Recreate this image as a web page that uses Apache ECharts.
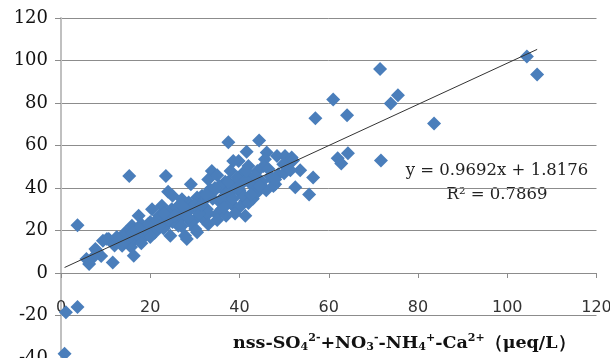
<!DOCTYPE html>
<html>
<head>
<meta charset="utf-8">
<script src="https://cdn.jsdelivr.net/npm/echarts@6/dist/echarts.min.js"></script>
<style>
  html, body { margin: 0; padding: 0; background: #fff; }
  #chart { width: 610px; height: 358px; }
</style>
</head>
<body>
<div id="chart"></div>
<script>
// anion - cation sum (x) vs measured value (y), ueq/L
const xVals = [
  104.4, 106.7, 83.6, 71.5, 75.5, 73.9, 61, 57, 64.1, 71.7, 64.3, 62, 62.8, 56.5, 55.6, 52.5, 53.6, 44.4, 37.5,
  1.1, 3.7, 0.8, 3.7, 15.3, 23.5, 24, 25, 29.1, 11.6, 6.3, 5.7, 8, 9.4, 10.7, 15.7, 16.3, 28.2, 30.5, 24.5,
  41.6, 46.1, 45.7, 50.2, 51.7, 51, 47.3, 48.7, 48, 42, 39.8, 43.5, 41.3, 40.5,
  38.6, 33.8, 36.8, 40.9, 42.4, 40.5, 41.3, 39, 35.7, 34.9, 32.7, 31.9, 30.1, 27.8, 26, 30.5, 33.4, 46.9, 47.6, 43.9, 45.4, 48.4,
  10.3, 13.7, 7.7, 17.4, 15.9, 14.4, 20.4, 21.9, 19.6, 16.6, 18.9, 23.7, 26.3, 28.6, 27.1, 31.6, 26.3, 30.1, 22.6, 24.8,
  33, 35, 38, 36, 39, 42, 44, 34, 37, 40, 43, 45, 38, 40, 36, 33, 35, 31, 29, 27, 25, 23, 21, 19, 17, 15, 14, 13, 12,
  18, 20, 22, 24, 26, 28, 30, 32, 34, 36, 38, 41, 43, 44, 46, 48, 50, 42, 39, 37, 22, 24, 27, 29, 33, 20, 18, 16, 14, 12, 9, 7,
  52, 49.8, 51.4,
  35.5, 37.5, 39.5, 41.5, 43.5, 36.5, 38.5, 40.5, 42.5, 44.5, 46.5, 31.5, 32.5, 34.5, 28.5, 27.5, 25.5, 23, 21, 19.5, 17.5, 16, 13.5, 12.5
];
const yVals = [
  101.9, 93.4, 70.4, 96, 83.6, 79.8, 81.7, 72.8, 74.2, 53, 56.3, 54, 51.5, 45, 37, 40.4, 48.4, 62.4, 61.5,
  -18.5, -16, -38, 22.5, 45.7, 45.7, 38.2, 36.3, 41.8, 5, 4.2, 6.6, 10.5, 15.2, 16, 12.2, 8.1, 16, 19.2, 17.5,
  57.1, 56.7, 53.5, 55.1, 54.3, 52, 44.1, 46.5, 41.8, 50.4, 52.7, 38.6, 34, 45,
  52.7, 48, 43, 47.3, 42.6, 37.1, 26.9, 30.8, 33.2, 27.7, 30, 25.4, 20.7, 17.5, 25.4, 35.5, 39.4, 45.4, 41, 39.4, 50.4, 55.1,
  16, 12.8, 11.3, 26.9, 22.2, 19.1, 30, 25.4, 21.5, 16, 17.5, 23, 28.5, 33.2, 34.7, 36.3, 22.2, 25.4, 31.6, 30,
  44, 46, 48, 40, 42, 45, 48, 35, 37, 39, 41, 43, 33, 31, 30, 28, 25, 28, 30, 26, 24, 21, 19, 20, 18, 16, 14, 16, 14,
  23, 24, 27, 28, 31, 28, 32, 34, 38, 35, 38, 36, 35, 38, 39, 44, 47, 33, 28, 27, 22, 25, 22, 24, 23, 17, 14, 20, 17, 13, 8, 7,
  53, 51.2, 48.4,
  41, 43, 45, 48, 46, 31, 35, 42, 37, 41, 49, 32, 37, 40, 26, 31, 27, 28, 24, 23, 21, 19, 14, 17
];

const slope = 0.9692;
const intercept = 1.8176;
const rSquared = 0.7869;

const xTicks = [0, 20, 40, 60, 80, 100, 120];
const yTicks = [-40, -20, 0, 20, 40, 60, 80, 100, 120];

const points = xVals.map((x, i) => [x, yVals[i]]);
const minX = Math.min(...xVals);
const maxX = Math.max(...xVals);
const trend = [minX, maxX].map(x => [x, slope * x + intercept]);

// grid geometry: x axis is drawn where y = 0
const gridTop = 18;
const gridBottom = 0;
const plotH = 358 - gridTop - gridBottom;
const zeroOffset = plotH * (0 - yTicks[0]) / (yTicks[yTicks.length - 1] - yTicks[0]);

const chart = echarts.init(document.getElementById('chart'));

const option = {
  animation: false,
  backgroundColor: '#fff',
  grid: { left: 61, right: 13.5, top: gridTop, bottom: gridBottom, containLabel: false, outerBoundsMode: 'none' },
  xAxis: {
    type: 'value',
    position: 'bottom',
    offset: -zeroOffset,
    min: xTicks[0],
    max: xTicks[xTicks.length - 1],
    interval: 20,
    axisLine: { show: true, onZero: false, lineStyle: { color: '#8c8c8c', width: 1 } },
    axisTick: { show: true, length: 5, inside: false, lineStyle: { color: '#8c8c8c' } },
    axisLabel: {
      show: true,
      margin: 27,
      fontFamily: 'DejaVu Sans',
      fontSize: 16,
      color: '#333',
      hideOverlap: false
    },
    splitLine: { show: false }
  },
  yAxis: {
    type: 'value',
    min: yTicks[0],
    max: yTicks[yTicks.length - 1],
    interval: 20,
    axisLine: { show: true, onZero: false, lineStyle: { color: '#c0c0c0', width: 2 } },
    axisTick: { show: true, length: 6, lineStyle: { color: '#8c8c8c' } },
    axisLabel: {
      margin: 13,
      fontFamily: 'DejaVu Serif',
      fontSize: 18,
      color: '#111'
    },
    splitLine: { show: true, lineStyle: { color: '#8c8c8c', width: 1 } }
  },
  series: [
    {
      type: 'scatter',
      symbol: 'diamond',
      symbolSize: 14,
      itemStyle: { color: '#4A7EBB', opacity: 1 },
      data: points,
      z: 2
    },
    {
      type: 'line',
      data: trend,
      symbol: 'none',
      lineStyle: { color: '#333', width: 1 },
      z: 3
    }
  ],
  graphic: [
    {
      type: 'text',
      x: 497,
      y: 171,
      style: {
        text: 'y = ' + slope.toFixed(4) + 'x + ' + intercept.toFixed(4),
        fontFamily: 'DejaVu Serif',
        fontSize: 16.5,
        fill: '#222',
        align: 'center',
        verticalAlign: 'middle'
      }
    },
    {
      type: 'text',
      x: 497,
      y: 195,
      style: {
        text: 'R\u00b2 = ' + rSquared.toFixed(4),
        fontFamily: 'DejaVu Serif',
        fontSize: 16.5,
        fill: '#222',
        align: 'center',
        verticalAlign: 'middle'
      }
    },
    {
      type: 'text',
      x: 233,
      y: 343,
      style: {
        text: '{b|nss-SO}{sub|4}{sup|2-}{b|+NO}{sub|3}{sup|-}{b|-NH}{sub|4}{sup|+}{b|-Ca}{sup|2+}{b|（μeq/L）}',
        align: 'left',
        verticalAlign: 'middle',
        fill: '#111',
        rich: {
          b: { fontFamily: 'DejaVu Serif', fontWeight: 'bold', fontSize: 17.5, lineHeight: 24, fill: '#111' },
          sub: { fontFamily: 'DejaVu Serif', fontWeight: 'bold', fontSize: 11, lineHeight: 13, padding: [9, 0, 0, 0], fill: '#111' },
          sup: { fontFamily: 'DejaVu Serif', fontWeight: 'bold', fontSize: 11, lineHeight: 13, padding: [0, 0, 9, 0], fill: '#111' }
        }
      }
    }
  ]
};

chart.setOption(option);
</script>
</body>
</html>
